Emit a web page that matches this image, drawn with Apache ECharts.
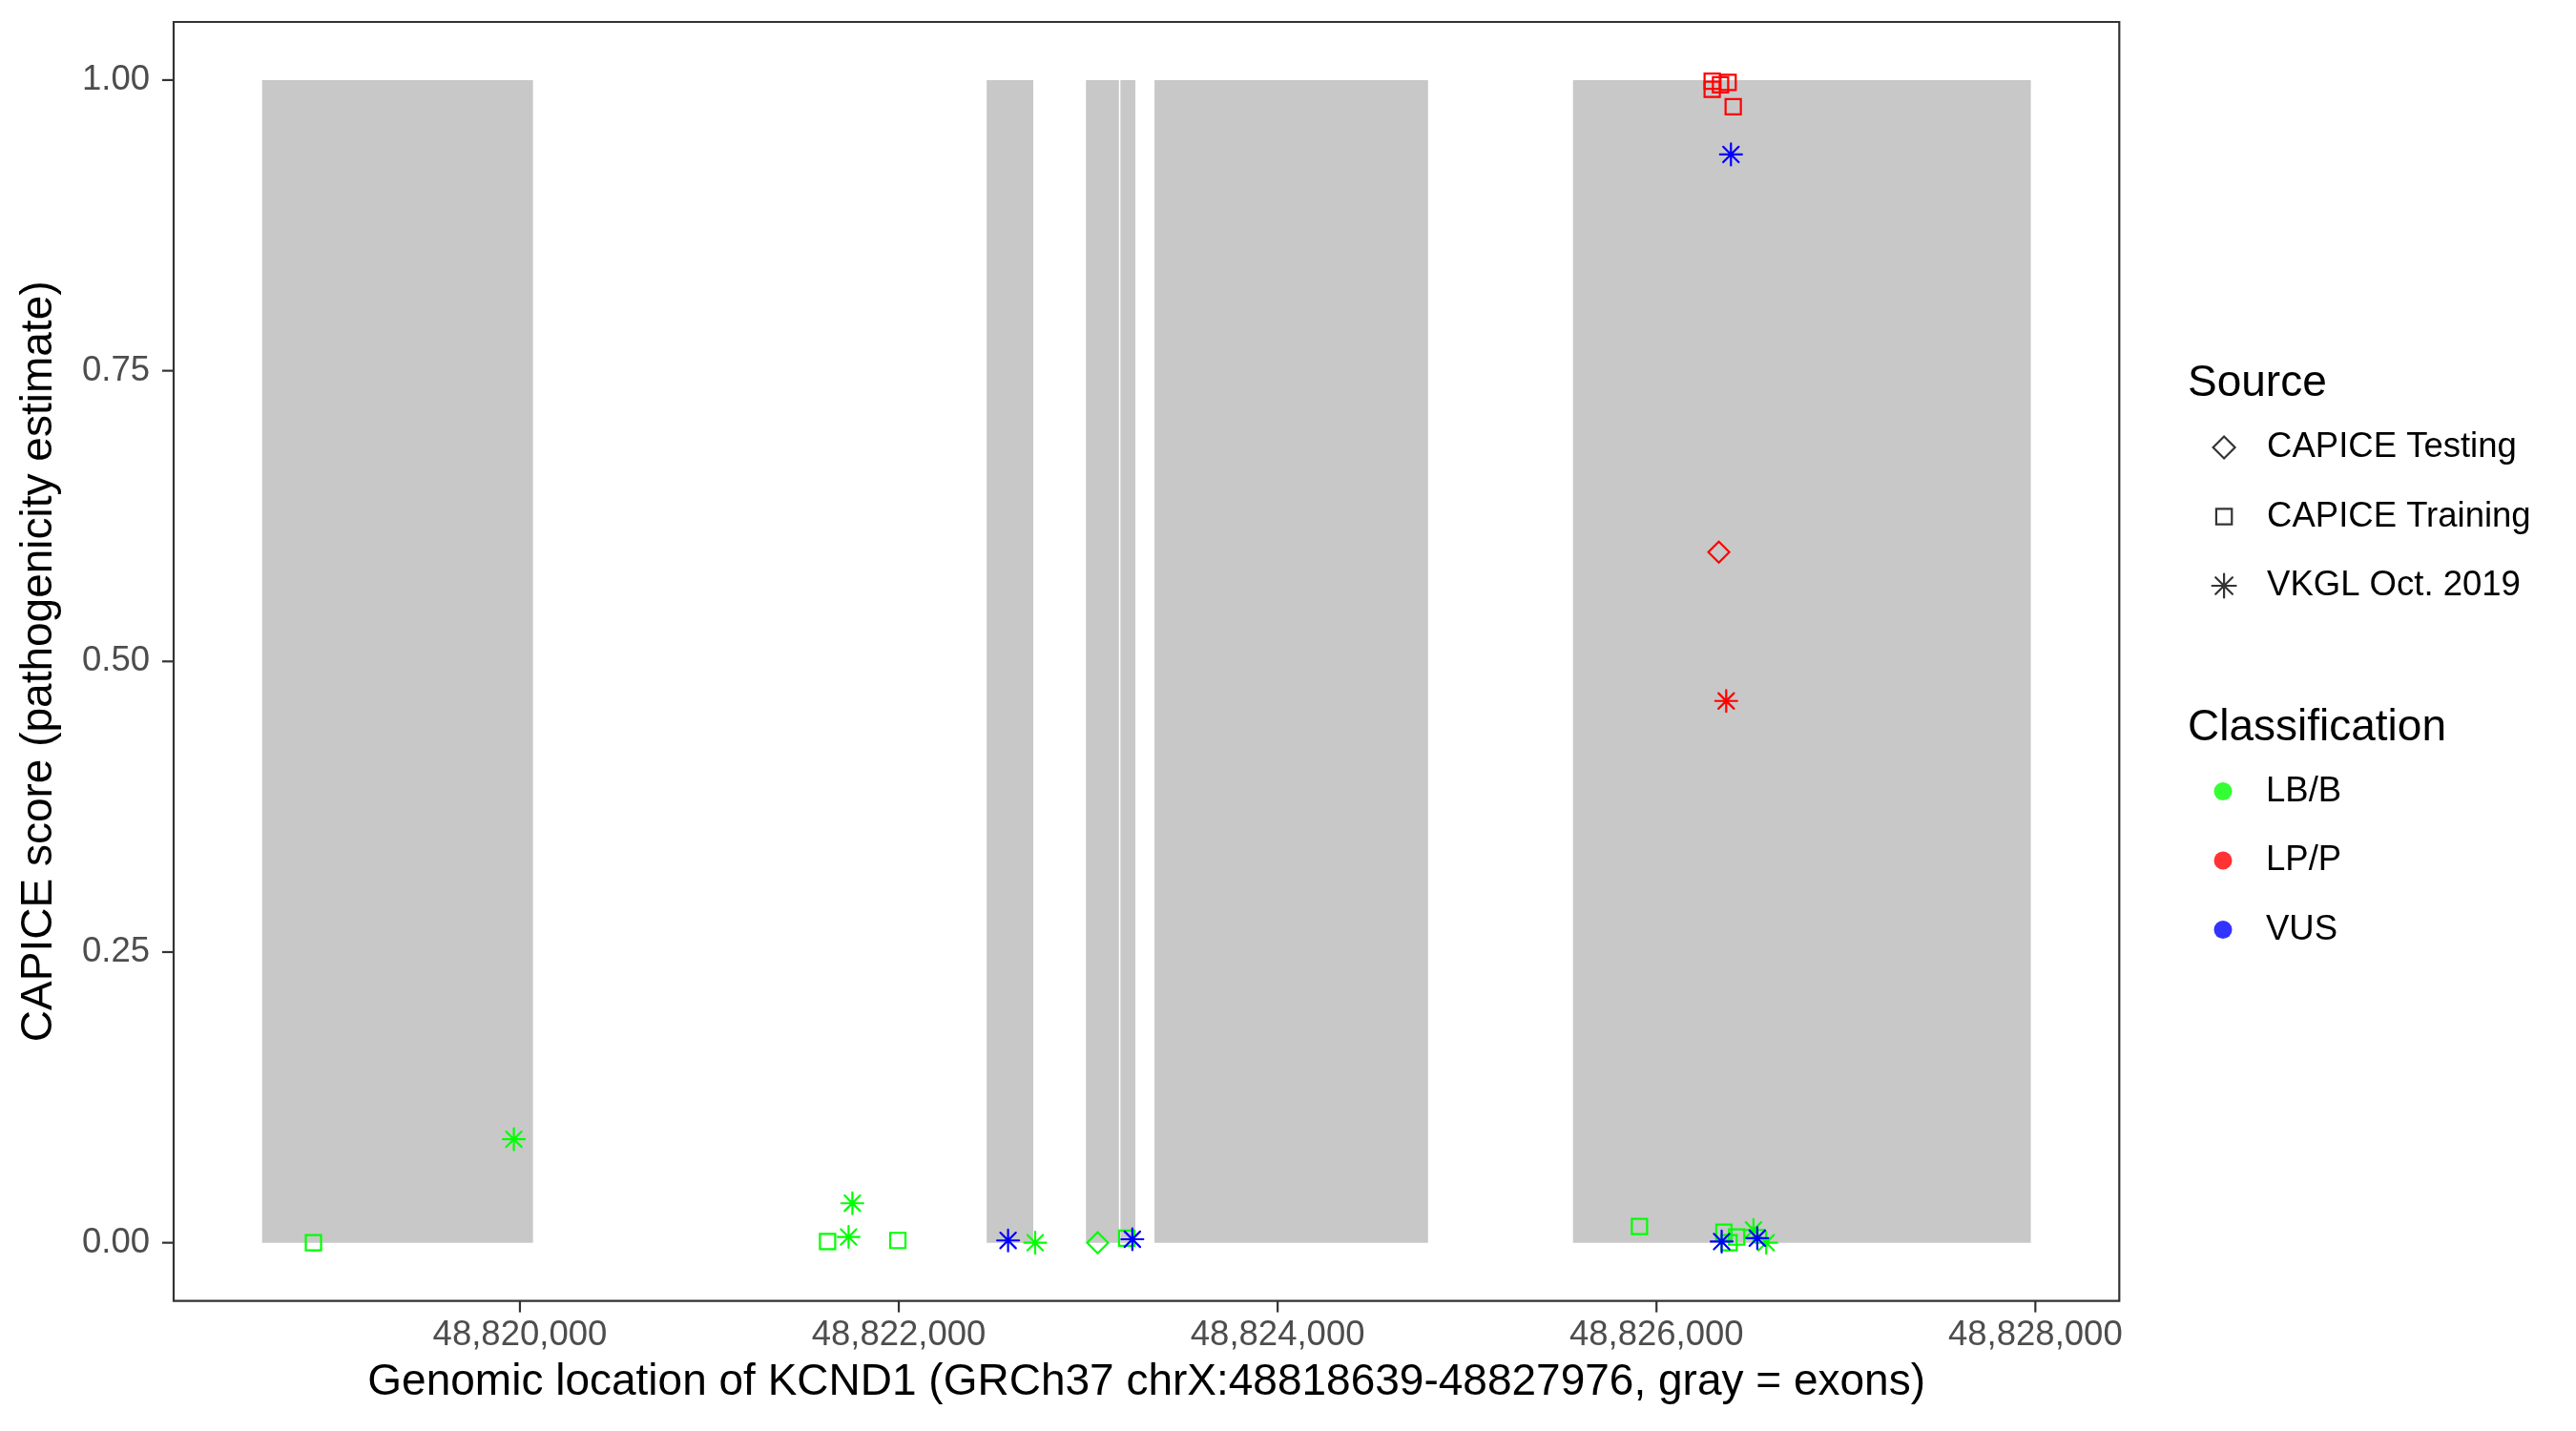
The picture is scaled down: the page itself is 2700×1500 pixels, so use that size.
<!DOCTYPE html>
<html>
<head>
<meta charset="utf-8">
<script src="https://cdn.jsdelivr.net/npm/echarts@6/dist/echarts.min.js"></script>
<style>
html,body{margin:0;padding:0;background:#ffffff;}
#chart{width:2700px;height:1500px;}
</style>
</head>
<body>
<div id="chart"></div>
<script>
// ---------------- data ----------------
const xTicks = [48820000, 48822000, 48824000, 48826000, 48828000];
const yTicks = [0, 0.25, 0.5, 0.75, 1];
const X_MIN = 48818172, X_MAX = 48828443;
const Y_MIN = -0.05, Y_MAX = 1.05;

// gray exon blocks (start, end)
const exonStart = [48818639, 48822464, 48822988, 48823170, 48823350, 48825559];
const exonEnd   = [48820069, 48822710, 48823162, 48823249, 48824794, 48827976];

// LB/B (green)
const lbbTraining = [[48818910, 0.000], [48821624, 0.001], [48821995, 0.002], [48823203, 0.004],
                     [48825910, 0.014], [48826356, 0.009], [48826383, 0.000], [48826423, 0.005]];
const lbbTesting  = [[48823050, 0.000]];
const lbbVkgl     = [[48819968, 0.089], [48821735, 0.005], [48821755, 0.034], [48822720, 0.000],
                     [48826512, 0.011], [48826579, 0.000]];
// LP/P (red)
const lppTraining = [[48826294, 0.999], [48826294, 0.992], [48826338, 0.996], [48826378, 0.998], [48826405, 0.977]];
const lppTesting  = [[48826329, 0.594]];
const lppVkgl     = [[48826368, 0.466]];
// VUS (blue)
const vusVkgl     = [[48822577, 0.002], [48823233, 0.003], [48826393, 0.936], [48826344, 0.001], [48826532, 0.004]];

const sourceNames = ['CAPICE Testing', 'CAPICE Training', 'VKGL Oct. 2019'];
const classNames  = ['LB/B', 'LP/P', 'VUS'];
const classColors = ['#00FF00', '#FF0000', '#0000FF'];

// ---------------- styling ----------------
const FONT = '"Liberation Sans", Arial, Helvetica, sans-serif';
const ASTERISK = 'path://M0,-1.414L0,1.414M-1.414,0L1.414,0M-1,-1L1,1M-1,1L1,-1';
const SQUARE_LEG = 'path://M-1.53,-1.53M1.53,1.53M-1,-1L1,-1L1,1L-1,1Z';
const DIAMOND_LEG = 'path://M-1.09,-1.09M1.09,1.09M0,-1L1,0L0,1L-1,0Z';
const LW = 2.2;
const TICK_LEN = 12;
const AXIS_COLOR = '#333333';

function fmtComma(v) {
  return String(Math.round(v)).replace(/\B(?=(\d{3})+(?!\d))/g, ',');
}

function pointSeries(name, data, color, shape) {
  let symbol, size;
  if (shape === 'square') { symbol = 'rect'; size = 16; }
  else if (shape === 'diamond') { symbol = 'diamond'; size = 22; }
  else { symbol = ASTERISK; size = 23; }
  return {
    name: name,
    type: 'scatter',
    data: data,
    symbol: symbol,
    symbolSize: size,
    z: 3,
    silent: true,
    itemStyle: { color: 'rgba(0,0,0,0)', borderColor: color, borderWidth: LW, borderCap: 'round', opacity: 1 },
    emphasis: { disabled: true }
  };
}

const series = [];
// exon blocks
series.push({
  name: 'exons',
  type: 'custom',
  z: 1,
  silent: true,
  data: exonStart.map((s, i) => [s, exonEnd[i]]),
  encode: { x: [0, 1] },
  renderItem: function (params, api) {
    const p0 = api.coord([api.value(0), 1]);
    const p1 = api.coord([api.value(1), 0]);
    return {
      type: 'rect',
      shape: { x: p0[0], y: p0[1], width: p1[0] - p0[0], height: p1[1] - p0[1] },
      style: { fill: '#C8C8C8' }
    };
  }
});
// axis tick marks (outward), placed through the axis scales
series.push({
  name: 'xticks', type: 'custom', z: 10, silent: true, clip: false,
  data: xTicks.map(v => [v, Y_MIN]),
  encode: { x: 0, y: 1 },
  renderItem: function (params, api) {
    const p = api.coord([api.value(0), api.value(1)]);
    return { type: 'line', shape: { x1: p[0], y1: p[1], x2: p[0], y2: p[1] + TICK_LEN },
             style: { stroke: AXIS_COLOR, lineWidth: LW } };
  }
});
series.push({
  name: 'yticks', type: 'custom', z: 10, silent: true, clip: false,
  data: yTicks.map(v => [X_MIN, v]),
  encode: { x: 0, y: 1 },
  renderItem: function (params, api) {
    const p = api.coord([api.value(0), api.value(1)]);
    return { type: 'line', shape: { x1: p[0] - TICK_LEN, y1: p[1], x2: p[0], y2: p[1] },
             style: { stroke: AXIS_COLOR, lineWidth: LW } };
  }
});
series.push(pointSeries('LB/B Training', lbbTraining, classColors[0], 'square'));
series.push(pointSeries('LB/B Testing', lbbTesting, classColors[0], 'diamond'));
series.push(pointSeries('LB/B VKGL', lbbVkgl, classColors[0], 'asterisk'));
series.push(pointSeries('LP/P Training', lppTraining, classColors[1], 'square'));
series.push(pointSeries('LP/P Testing', lppTesting, classColors[1], 'diamond'));
series.push(pointSeries('LP/P VKGL', lppVkgl, classColors[1], 'asterisk'));
series.push(pointSeries('VUS VKGL', vusVkgl, classColors[2], 'asterisk'));

// legend-only series
const srcIcons = [DIAMOND_LEG, SQUARE_LEG, ASTERISK];
sourceNames.forEach((n, i) => {
  series.push({ name: n, type: 'scatter', data: [], symbol: srcIcons[i],
    itemStyle: { color: 'rgba(0,0,0,0)', borderColor: '#000', borderWidth: LW } });
});
classNames.forEach((n, i) => {
  series.push({ name: n, type: 'scatter', data: [], symbol: 'circle',
    itemStyle: { color: classColors[i] } });
});

const legendText = { fontFamily: FONT, fontSize: 36.5, color: '#000', lineHeight: 36 };

const option = {
  animation: false,
  backgroundColor: '#ffffff',
  textStyle: { fontFamily: FONT },
  grid: {
    left: 182, right: 478.7, top: 23, bottom: 136.4,
    show: true, borderColor: AXIS_COLOR, borderWidth: LW
  },
  xAxis: {
    type: 'value',
    min: X_MIN, max: X_MAX,
    name: 'Genomic location of KCND1 (GRCh37 chrX:48818639-48827976, gray = exons)',
    nameLocation: 'middle',
    nameGap: 63,
    nameTextStyle: { fontFamily: FONT, fontSize: 46, color: '#000' },
    axisLine: { show: false, onZero: false },
    splitLine: { show: false },
    axisTick: { show: false },
    axisLabel: { customValues: xTicks, formatter: fmtComma, fontFamily: FONT, fontSize: 36.5, color: '#4D4D4D', margin: 18 }
  },
  yAxis: {
    type: 'value',
    min: Y_MIN, max: Y_MAX,
    name: 'CAPICE score (pathogenicity estimate)',
    nameLocation: 'middle',
    nameGap: 118,
    nameRotate: 90,
    nameTextStyle: { fontFamily: FONT, fontSize: 46, color: '#000' },
    axisLine: { show: false, onZero: false },
    splitLine: { show: false },
    axisTick: { show: false },
    axisLabel: { customValues: yTicks, formatter: v => Number(v).toFixed(2), fontFamily: FONT, fontSize: 36.5, color: '#4D4D4D', margin: 25 }
  },
  legend: [
    {
      orient: 'vertical', left: 2317.5, top: 450.5, padding: 0,
      itemWidth: 25, itemHeight: 25, itemGap: 35.5, selectedMode: false,
      textStyle: Object.assign({}, legendText, { padding: [0, 0, 0, 27.5] }),
      data: sourceNames.map((n, i) => ({
        name: n, icon: srcIcons[i],
        itemStyle: { color: 'rgba(0,0,0,0)', borderColor: '#000', borderWidth: LW, borderCap: 'round' }
      }))
    },
    {
      orient: 'vertical', left: 2320.5, top: 811, padding: 0,
      itemWidth: 19, itemHeight: 19, itemGap: 35.5, selectedMode: false,
      textStyle: Object.assign({}, legendText, { padding: [0, 0, 0, 30.5] }),
      data: classNames.map((n, i) => ({
        name: n, icon: 'circle',
        itemStyle: { color: classColors[i], borderWidth: 0 }
      }))
    }
  ],
  graphic: [
    { type: 'text', left: 2293, top: 402 - 23, style: { text: 'Source', fontFamily: FONT, fontSize: 46, fill: '#000' } },
    { type: 'text', left: 2293, top: 763 - 23, style: { text: 'Classification', fontFamily: FONT, fontSize: 46, fill: '#000' } }
  ],
  series: series
};

const chart = echarts.init(document.getElementById('chart'), null, { renderer: 'canvas' });
chart.setOption(option);
</script>
</body>
</html>
